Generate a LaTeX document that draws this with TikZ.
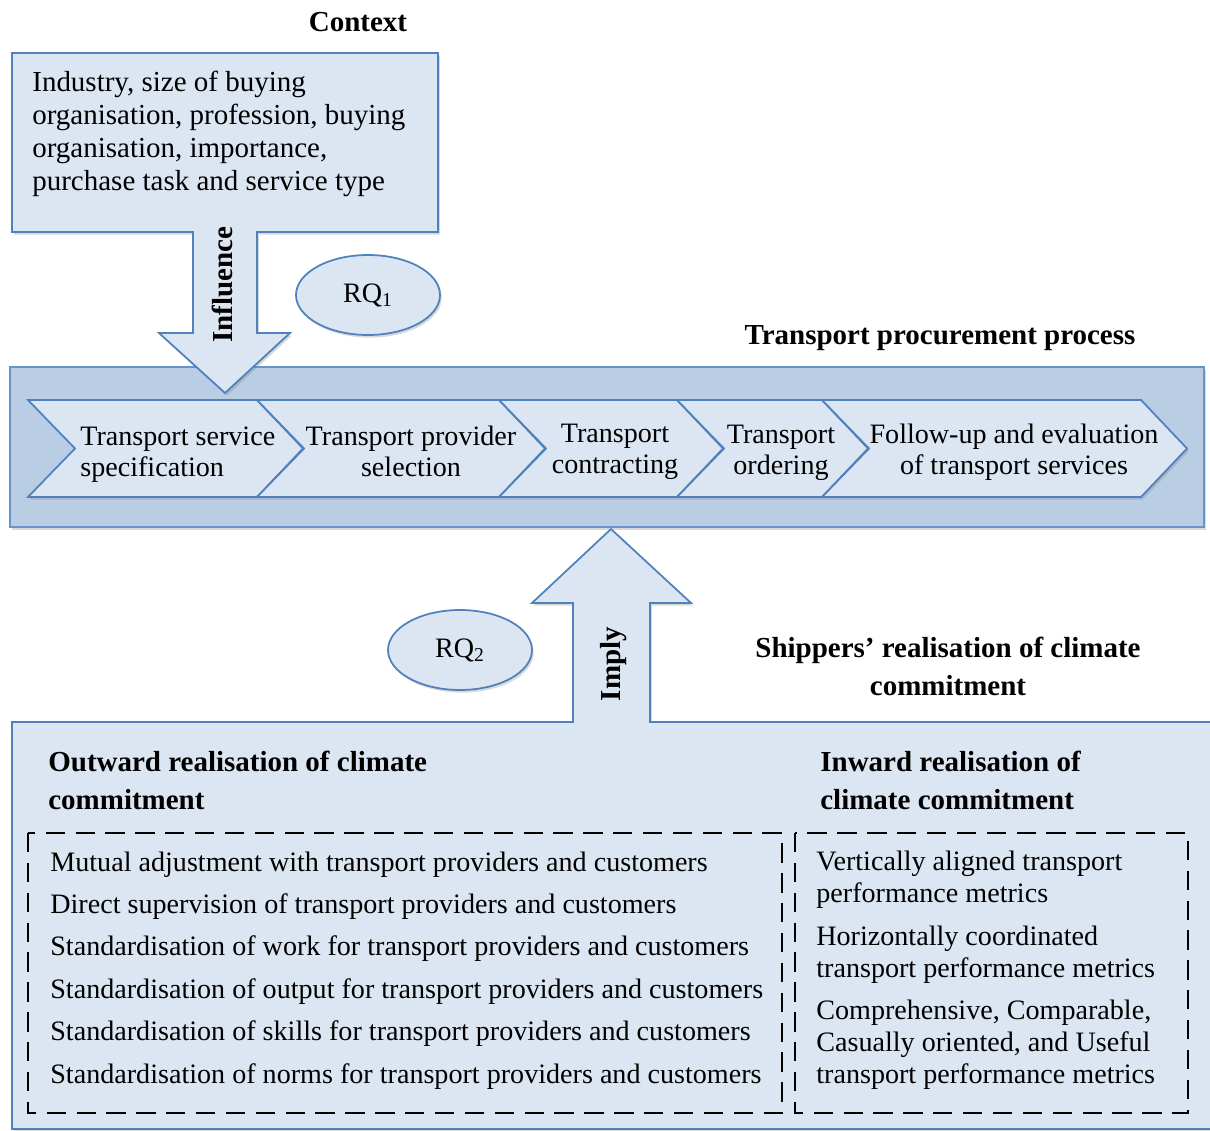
\documentclass[tikz,border=0pt]{standalone}
\usepackage{fontspec}
\setmainfont{Liberation Serif}
\usepackage{tikz}
\usetikzlibrary{shapes.geometric}
\usetikzlibrary{shadows}
\definecolor{lightfill}{HTML}{DCE6F2}
\definecolor{procfill}{HTML}{B9CDE5}
\definecolor{boxline}{HTML}{4F81BD}
\tikzset{bx/.style={draw=boxline,line width=1pt,fill=lightfill}}
\tikzset{shd/.style={drop shadow={opacity=0.3,shadow xshift=1pt,shadow yshift=-1.5pt}}}
\tikzset{l/.style={font=\fontsize{16}{18}\selectfont,inner sep=0pt}}
\tikzset{h/.style={font=\fontsize{16.5}{21.5}\selectfont\bfseries,inner sep=0pt}}
\tikzset{dsh/.style={draw=black,line width=1.3pt,dash pattern=on 11pt off 6pt}}
\tikzset{rq/.style={bx,shd,ellipse,minimum width=2.88cm,minimum height=1.6cm,font=\fontsize{16}{18}\selectfont}}

\begin{document}
\begin{tikzpicture}[x=0.02cm,y=-0.02cm]
            \useasboundingbox (0,0) rectangle (1210,1131);
            \filldraw[draw=boxline!85,fill=procfill,line width=1pt,shd](10,367) rectangle (1204,527);
            \foreach \lft/\rgt in {28/257,257/499,499/677,677/822,822/1141}
              \filldraw[bx,shd](\lft,400)--(\rgt,400)--(\rgt+46,448.5)--(\rgt,497)--(\lft,497)--(\lft+47,448.5)--cycle;
            \filldraw[bx,shd](12,53)--(438,53)--(438,232)--(257,232)--(257,333)--(290,333)--(225,393)--(159,333)--(193,333)--(193,232)--(12,232)--cycle;
            \filldraw[bx,shd](12,1129)--(12,722)--(573,722)--(573,603)--(532,603)--(611,529)--(691,603)--(650,603)--(650,722)--(1220,722)--(1220,1129)--cycle;
            \draw[dsh](28,833) rectangle (782,1113);
            \draw[dsh](795,833) rectangle (1188,1113);
            \node[h,anchor=base] (ctx) at (358,32) {Context};
            \node[l,anchor=base west,align=left,font=\fontsize{16.5}{18.9}\selectfont] (ctxtxt) at (32,191) {Industry, size of buying\\organisation, profession, buying\\organisation, importance,\\purchase task and service type};
            \node[h,anchor=base,rotate=90] (infl) at (232,284.5) {Influence};
            \node[rq] (rq1) at (368,295) {RQ\textsubscript{1}};
            \node[h,anchor=base] (proc) at (940,345) {Transport procurement process};
            \node[l,anchor=base west,align=left,font=\fontsize{16}{17.8}\selectfont] (s1) at (80,477) {Transport service\\specification};
            \node[l,anchor=base,align=center,font=\fontsize{16}{17.8}\selectfont] (s2) at (411,477) {Transport provider\\selection};
            \node[l,anchor=base,align=center,font=\fontsize{16}{17.8}\selectfont] (s3) at (615,474) {Transport\\contracting};
            \node[l,anchor=base,align=center,font=\fontsize{16}{17.8}\selectfont] (s4) at (781,475) {Transport\\ordering};
            \node[l,anchor=base,align=center,font=\fontsize{16}{17.8}\selectfont] (s5) at (1014,475) {Follow-up and evaluation\\of transport services};
            \node[rq] (rq2) at (460,650) {RQ\textsubscript{2}};
            \node[h,anchor=base,rotate=90] (impl) at (620,664) {Imply};
            \node[h,anchor=base,align=center] (ship) at (948,695) {Shippers’ realisation of climate\\commitment};
            \node[h,anchor=base west,align=left] (outw) at (48,809) {Outward realisation of climate\\commitment};
            \node[h,anchor=base west,align=left] (inw) at (820,809) {Inward realisation of\\climate commitment};
            \node[l,anchor=base west,align=left,font=\fontsize{16}{24.1}\selectfont] (lst) at (50,1083) {Mutual adjustment with transport providers and customers\\Direct supervision of transport providers and customers\\Standardisation of work for transport providers and customers\\Standardisation of output for transport providers and customers\\Standardisation of skills for transport providers and customers\\Standardisation of norms for transport providers and customers};
            \node[l,anchor=base west,align=left] (in1) at (816,902) {Vertically aligned transport\\performance metrics};
            \node[l,anchor=base west,align=left] (in2) at (816,977) {Horizontally coordinated\\transport performance metrics};
            \node[l,anchor=base west,align=left] (in3) at (816,1083) {Comprehensive, Comparable,\\Casually oriented, and Useful\\transport performance metrics};
          \end{tikzpicture}
\end{document}
